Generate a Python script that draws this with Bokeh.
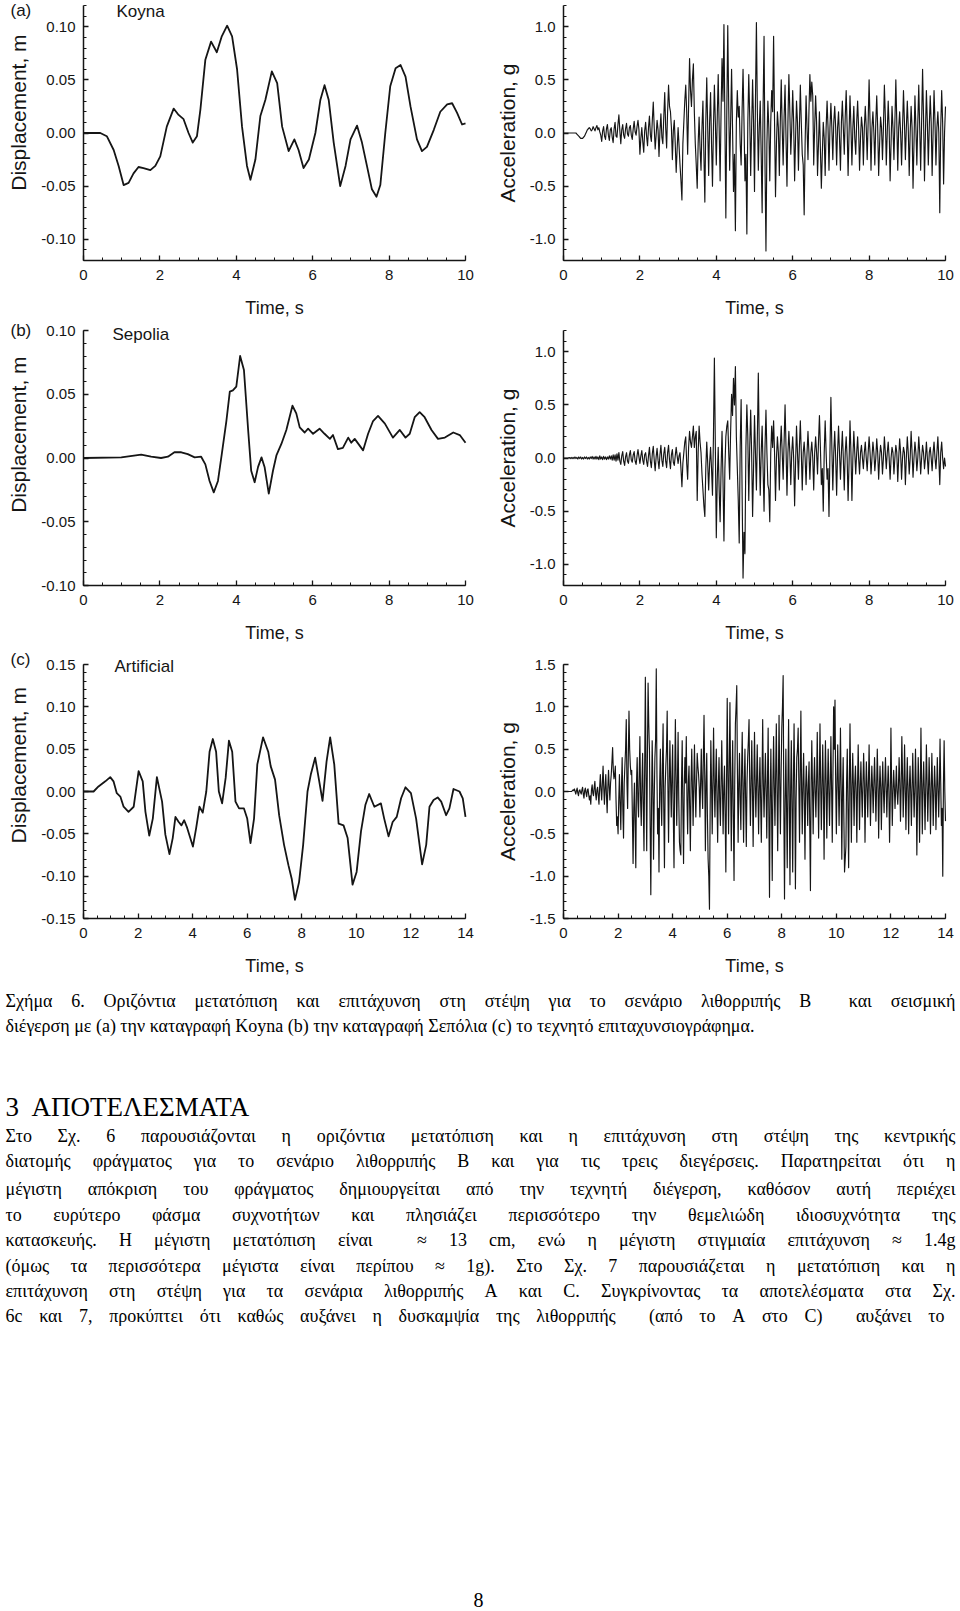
import glob
from bokeh.plotting import figure
from bokeh.models import Range1d, FixedTicker, PrintfTickFormatter, Label, ColumnDataSource
from bokeh.layouts import column, row
from bokeh.core.properties import value
from bokeh.embed import file_html
from bokeh.resources import INLINE

# ---------------- data ----------------
koyna_disp_t = [0, 0.44, 0.61, 0.79, 0.92, 1.05, 1.18, 1.31, 1.44, 1.57, 1.75, 1.88, 2.01, 2.18, 2.36,
                2.49, 2.62, 2.75, 2.86, 2.97, 3.06, 3.19, 3.34, 3.49, 3.62, 3.76, 3.89, 4.02, 4.15, 4.28,
                4.37, 4.50, 4.63, 4.76, 4.93, 5.07, 5.20, 5.37, 5.52, 5.63, 5.76, 5.90, 6.07, 6.20, 6.31,
                6.42, 6.55, 6.72, 6.86, 6.99, 7.16, 7.29, 7.42, 7.55, 7.67, 7.77, 7.90, 8.03, 8.17, 8.30,
                8.43, 8.56, 8.73, 8.86, 8.99, 9.17, 9.34, 9.52, 9.65, 9.78, 9.91, 10.0]
koyna_disp = [0, 0, -0.003, -0.016, -0.031, -0.049, -0.047, -0.038, -0.032, -0.033, -0.035, -0.031, -0.022, 0.006, 0.023,
              0.017, 0.013, 0, -0.009, -0.003, 0.022, 0.069, 0.086, 0.076, 0.091, 0.101, 0.091, 0.060, 0.006, -0.031,
              -0.044, -0.025, 0.016, 0.031, 0.058, 0.047, 0.006, -0.017, -0.006, -0.016, -0.033, -0.025, 0, 0.031, 0.045,
              0.031, -0.009, -0.050, -0.031, -0.006, 0.007, -0.009, -0.031, -0.053, -0.060, -0.049, 0, 0.044, 0.061, 0.064,
              0.053, 0.025, -0.006, -0.017, -0.013, 0.003, 0.020, 0.027, 0.028, 0.019, 0.008, 0.009]

sepolia_disp_t = [0, 0.99, 1.51, 1.77, 2.03, 2.21, 2.38, 2.56, 2.73, 2.91, 3.08, 3.19, 3.30, 3.41, 3.52,
                  3.62, 3.74, 3.83, 3.91, 4.00, 4.10, 4.20, 4.31, 4.39, 4.48, 4.57, 4.66, 4.74, 4.85, 4.96,
                  5.05, 5.18, 5.31, 5.47, 5.57, 5.66, 5.79, 5.88, 6.01, 6.18, 6.31, 6.45, 6.53, 6.66, 6.79,
                  6.93, 7.01, 7.10, 7.32, 7.45, 7.58, 7.71, 7.89, 8.10, 8.28, 8.43, 8.54, 8.67, 8.80, 8.93,
                  9.11, 9.28, 9.46, 9.68, 9.85, 10.0]
sepolia_disp = [0, 0.0005, 0.0026, 0.001, 0, 0.001, 0.0045, 0.0045, 0.003, 0.0005, 0.001, -0.005, -0.018, -0.027, -0.018,
                0.003, 0.029, 0.052, 0.053, 0.056, 0.080, 0.069, 0.022, -0.010, -0.019, -0.007, 0.0005, -0.007, -0.028, -0.010,
                0.002, 0.011, 0.022, 0.041, 0.035, 0.024, 0.020, 0.023, 0.019, 0.023, 0.019, 0.015, 0.018, 0.007, 0.008,
                0.016, 0.012, 0.015, 0.006, 0.019, 0.029, 0.033, 0.027, 0.016, 0.022, 0.016, 0.019, 0.032, 0.036, 0.032,
                0.022, 0.015, 0.016, 0.020, 0.018, 0.012]

artificial_disp_t = [0, 0.37, 0.55, 0.80, 0.98, 1.10, 1.22, 1.35, 1.47, 1.65, 1.84, 2.02, 2.17, 2.27, 2.41,
                     2.54, 2.69, 2.88, 3.00, 3.15, 3.27, 3.37, 3.49, 3.59, 3.69, 3.80, 4.01, 4.13, 4.25, 4.37,
                     4.50, 4.62, 4.74, 4.86, 4.96, 5.08, 5.21, 5.33, 5.45, 5.57, 5.70, 5.88, 6.00, 6.12, 6.25,
                     6.37, 6.58, 6.77, 6.86, 7.02, 7.17, 7.35, 7.51, 7.63, 7.75, 7.90, 8.05, 8.21, 8.33, 8.49,
                     8.64, 8.76, 8.91, 9.04, 9.19, 9.35, 9.53, 9.68, 9.86, 10.01, 10.17, 10.33, 10.47, 10.66, 10.90,
                     11.02, 11.18, 11.33, 11.48, 11.64, 11.80, 12.00, 12.19, 12.41, 12.56, 12.68, 12.83, 12.98, 13.11, 13.29,
                     13.41, 13.56, 13.78, 13.90, 14.0]
artificial_disp = [0, 0, 0.006, 0.012, 0.017, 0.012, -0.002, -0.006, -0.018, -0.024, -0.018, 0.024, 0.012, -0.024, -0.052,
                   -0.032, 0.017, -0.012, -0.051, -0.074, -0.055, -0.030, -0.036, -0.040, -0.034, -0.043, -0.065, -0.043, -0.018, -0.025,
                   0, 0.047, 0.062, 0.047, 0, -0.014, 0.016, 0.060, 0.047, -0.012, -0.020, -0.020, -0.032, -0.061, -0.032,
                   0.032, 0.064, 0.047, 0.030, 0.014, -0.028, -0.063, -0.087, -0.103, -0.128, -0.107, -0.063, 0, 0.020, 0.040,
                   0.012, -0.011, 0.036, 0.064, 0.032, -0.038, -0.040, -0.055, -0.110, -0.095, -0.047, -0.016, -0.003, -0.018, -0.014,
                   -0.032, -0.053, -0.036, -0.030, -0.008, 0.005, -0.002, -0.032, -0.086, -0.063, -0.018, -0.010, -0.007, -0.012, -0.028,
                   -0.020, 0.003, 0, -0.008, -0.030]

acc_dt = 0.025  # sampling step of the acceleration values below, s

koyna_acc = [
    0, 0, 0, 0, 0, 0, 0, 0, 0, 0, 0, 0, 0, 0, -0.01, -0.02, -0.03, -0.04, -0.05, -0.05,
    -0.05, -0.04, -0.03, -0.01, 0.01, 0.03, 0.04, 0.05, 0.04, 0.02, 0.03, 0.06, 0.04, 0.02, 0.05, 0.07, 0.03, 0.05, 0.01, -0.02,
    -0.08, 0.02, 0.06, -0.03, -0.06, 0.04, 0.08, -0.02, -0.07, 0.03, 0.05, -0.04, -0.09, 0.04, 0.10, -0.03, -0.04, 0.08, 0.17, 0.02,
    -0.10, 0.03, 0.08, -0.02, -0.05, 0.04, 0.09, -0.01, -0.03, 0.05, 0.07, -0.02, -0.06, 0.04, 0.11, 0.01, -0.02, 0.06, 0.12, 0.03,
    -0.20, -0.05, 0.05, -0.08, -0.18, 0.02, 0.10, -0.03, -0.12, 0.05, 0.16, -0.02, -0.08, 0.12, 0.29, 0.05, -0.15, -0.02, 0.12, 0.03,
    -0.22, 0.02, 0.18, -0.04, -0.10, 0.15, 0.38, 0.05, -0.14, 0.20, 0.45, 0.25, 0.20, 0.05, -0.25, 0.02, 0.12, -0.10, -0.37, -0.15,
    0.05, -0.12, -0.30, -0.45, -0.63, -0.10, 0.10, 0.30, 0.45, 0.20, -0.20, 0.25, 0.70, 0.40, 0.25, 0.50, 0.65, 0.20, -0.10, -0.30,
    -0.52, -0.10, 0.15, -0.15, -0.35, 0.05, 0.30, -0.20, -0.65, 0.10, 0.52, 0.05, -0.40, 0.10, 0.38, -0.10, -0.50, 0.05, 0.45, 0.10,
    -0.30, 0.15, 0.55, 0.05, -0.45, 0.20, 0.70, 0.30, 1.02, 0.10, -0.80, 0.20, 1.01, 0.25, -0.35, 0.10, 0.60, 0.05, -0.55, -0.20,
    -0.92, 0.10, 0.40, 0.15, 0.25, -0.10, -0.30, 0.20, 0.60, 0.10, -0.45, -0.20, -0.95, 0.10, 0.55, 0.15, -0.40, 0.05, 0.50, 0.10,
    -0.55, 0.30, 1.04, 0.20, -0.35, 0.05, 0.30, -0.20, -0.75, 0.25, 0.91, -0.30, -1.11, -0.10, 0.30, 0.05, -0.45, 0.10, 0.40, 0.20,
    0.91, 0.10, -0.60, -0.10, 0.20, 0.05, -0.40, 0.10, 0.50, 0.05, -0.30, 0.15, 0.45, -0.05, -0.50, 0.10, 0.55, 0.20, -0.20, 0.05,
    0.40, 0.10, -0.45, -0.05, 0.30, 0.10, -0.35, 0.05, 0.45, 0.10, -0.20, -0.30, -0.77, -0.10, 0.35, 0.05, -0.25, 0.20, 0.55, 0.30,
    0.48, 0.35, -0.30, 0.05, 0.35, 0.10, -0.40, -0.10, 0.20, -0.15, -0.52, -0.20, 0.10, -0.05, -0.40, 0.05, 0.30, 0.05, -0.35, 0.05,
    0.28, 0.05, -0.25, 0.10, 0.25, 0.05, -0.30, 0.05, 0.20, -0.05, -0.35, 0.10, 0.30, 0.05, -0.20, 0.15, 0.40, 0.05, -0.40, 0.00,
    0.35, 0.05, -0.30, 0.05, 0.25, -0.05, -0.20, 0.10, 0.30, 0.05, -0.35, -0.05, 0.15, 0.05, -0.30, 0.05, 0.25, 0.05, -0.25, 0.10,
    0.50, 0.10, -0.35, 0.05, 0.20, 0.00, -0.30, 0.10, 0.35, 0.05, -0.40, -0.10, 0.15, 0.05, -0.25, 0.05, 0.45, 0.15, -0.30, 0.00,
    0.30, 0.05, -0.45, -0.10, 0.25, 0.05, -0.25, 0.10, 0.50, 0.10, -0.35, 0.05, 0.20, 0.00, -0.30, 0.05, 0.40, 0.10, -0.25, 0.05,
    0.30, 0.05, -0.40, 0.00, 0.25, 0.05, -0.52, -0.10, 0.35, 0.05, -0.30, 0.10, 0.45, 0.05, -0.35, 0.10, 0.60, 0.15, -0.45, 0.00,
    0.40, 0.10, -0.30, 0.05, 0.35, 0.10, -0.40, 0.00, 0.40, 0.10, -0.30, 0.05, 0.20, 0.00, -0.75, 0.05, 0.40, 0.10, -0.48, 0.00,
    0.25]

sepolia_acc = [
    0, 0, 0, 0, 0, 0, 0.005, -0.005, 0.005, -0.005, 0.005, -0.005, 0.01, -0.005, 0.005, -0.01, 0.01, -0.005, 0.01, -0.01,
    0.005, -0.01, 0.01, -0.005, 0.01, -0.01, 0.005, -0.01, 0.01, -0.005, 0.015, -0.01, 0.01, -0.01, 0.015, -0.01, 0.01, -0.015, 0.02, -0.01,
    0.01, -0.015, 0.015, -0.01, 0.01, -0.015, 0.01, -0.01, 0.02, -0.01, 0.02, -0.02, 0.03, -0.02, 0.03, -0.03, 0.04, -0.02, 0.05, -0.03,
    -0.06, 0.02, 0.06, -0.03, -0.07, 0.01, 0.05, -0.03, -0.05, 0.03, 0.07, -0.02, -0.04, 0.03, 0.06, -0.03, -0.06, 0.02, 0.08, 0.01,
    -0.05, 0.02, 0.07, -0.02, -0.06, 0.03, 0.05, -0.03, -0.08, 0.02, 0.10, -0.03, -0.09, 0.04, 0.11, -0.02, -0.12, 0.01, 0.09, -0.02,
    -0.10, 0.03, 0.12, -0.02, -0.08, 0.04, 0.10, -0.03, -0.09, 0.05, 0.12, -0.02, -0.10, 0.03, 0.08, -0.04, -0.07, 0.02, 0.10, 0.02,
    -0.05, 0.02, 0.05, -0.10, -0.27, -0.05, 0.05, 0.15, 0.20, -0.05, -0.20, 0.10, 0.25, 0.15, 0.10, 0.20, 0.30, 0.10, 0.20, 0.25,
    -0.40, 0.05, 0.30, 0.15, 0.05, -0.15, -0.30, -0.45, -0.55, -0.10, 0.15, -0.05, -0.30, -0.05, 0.10, -0.10, -0.35, 0.20, 0.94, 0.10,
    -0.75, -0.20, 0.10, -0.30, -0.60, -0.10, 0.25, -0.20, -0.78, -0.10, 0.20, 0.30, 0.35, 0.05, -0.20, 0.25, 0.60, 0.40, 0.75, 0.50,
    0.86, 0.20, -0.10, -0.40, -0.80, 0.10, 0.55, -0.30, -1.13, -0.70, -0.90, 0.10, 0.50, 0.20, -0.40, 0.10, 0.45, 0.05, -0.55, -0.10,
    0.40, 0.05, -0.30, 0.20, 0.80, 0.10, -0.35, 0.05, 0.30, -0.10, -0.50, 0.10, 0.45, 0.05, -0.25, -0.30, -0.60, 0.05, 0.30, 0.10,
    0.35, 0.05, -0.40, 0.00, 0.20, 0.05, -0.30, 0.10, 0.30, 0.05, -0.20, 0.15, 0.50, 0.10, -0.35, 0.05, 0.25, 0.05, -0.25, 0.05,
    0.20, 0.00, -0.45, -0.05, 0.30, 0.05, -0.20, 0.10, 0.35, 0.05, -0.30, 0.05, 0.15, 0.00, -0.25, 0.05, 0.25, 0.05, -0.20, 0.05,
    0.15, 0.00, -0.30, 0.05, 0.20, 0.05, -0.15, 0.15, 0.40, 0.10, -0.25, -0.10, -0.50, 0.05, 0.35, 0.05, -0.20, -0.10, -0.55, 0.05,
    0.57, 0.10, -0.30, 0.05, 0.25, 0.00, -0.35, 0.05, 0.30, 0.05, -0.20, 0.05, 0.25, 0.00, -0.30, 0.05, 0.20, 0.00, -0.40, -0.05,
    0.35, 0.05, -0.40, 0.00, 0.25, 0.05, -0.15, 0.05, 0.20, 0.00, -0.15, 0.05, 0.12, 0.00, -0.10, 0.05, 0.15, 0.00, -0.12, 0.05,
    0.20, 0.05, -0.15, 0.00, 0.15, 0.05, -0.12, 0.00, 0.18, 0.05, -0.20, 0.00, 0.12, 0.05, -0.15, 0.00, 0.20, 0.05, -0.10, 0.05,
    0.15, 0.00, -0.20, 0.00, 0.10, 0.05, -0.15, 0.00, 0.12, 0.05, -0.22, 0.00, 0.18, 0.05, -0.20, 0.00, 0.10, 0.05, -0.25, 0.00,
    0.20, 0.05, -0.15, 0.00, 0.25, 0.05, -0.18, 0.00, 0.15, 0.05, -0.12, 0.00, 0.20, 0.05, -0.15, 0.00, 0.12, 0.05, -0.10, 0.00,
    0.15, 0.00, -0.15, 0.05, 0.10, 0.00, -0.12, 0.05, 0.15, 0.00, -0.10, 0.05, 0.20, 0.00, -0.25, 0.05, 0.15, 0.00, -0.10, 0.00,
    -0.08]

artificial_acc = [
    0, 0, 0, 0, 0, 0, 0, 0, 0, 0, 0, 0, 0, 0.01, 0.02, 0.01, 0.03, 0.00, -0.03, 0.01,
    0.04, -0.02, -0.05, 0.01, 0.02, -0.01, -0.03, 0.02, 0.05, -0.03, -0.08, 0.01, 0.04, -0.02, -0.06, 0.02, 0.03, -0.04, -0.10, -0.05,
    -0.15, 0.02, 0.08, -0.02, -0.05, 0.05, 0.12, -0.03, -0.10, 0.02, 0.05, -0.05, -0.15, 0.05, 0.20, 0.02, -0.10, 0.10, 0.30, 0.05,
    -0.15, 0.05, 0.20, -0.05, -0.25, 0.05, 0.25, 0.05, -0.10, 0.10, 0.20, 0.35, 0.52, 0.25, 0.15, 0.20, 0.30, -0.10, -0.40, -0.30,
    -0.50, -0.10, 0.20, -0.15, -0.45, 0.05, 0.40, -0.20, -0.55, 0.10, 0.30, 0.50, 0.85, 0.10, -0.20, 0.40, 0.95, 0.50, 0.30, 0.20,
    0.25, -0.30, -0.85, -0.20, 0.10, -0.40, -0.90, 0.10, 0.40, -0.10, -0.30, 0.20, 0.65, -0.10, -0.40, 0.10, 0.45, -0.20, -0.70, 0.30,
    1.35, 0.20, -0.70, 0.40, 1.28, 0.80, 0.50, -0.40, -1.22, -0.20, 0.60, 0.10, -0.80, -0.10, 0.40, 0.60, 1.45, 0.20, -0.50, -0.20,
    -0.95, 0.10, 0.50, -0.10, -0.40, 0.30, 0.80, -0.20, -0.90, 0.05, 0.30, 0.50, 0.95, 0.10, -0.60, 0.10, 0.60, 0.10, -0.30, 0.20,
    0.55, -0.30, -0.90, 0.10, 0.85, 0.20, -0.40, 0.10, 0.70, -0.10, -0.60, -0.70, -0.75, 0.10, 0.60, -0.20, -0.85, 0.05, 0.40, 0.10,
    0.65, -0.10, -0.50, 0.10, 0.30, -0.20, -0.70, 0.10, 0.50, 0.05, -0.40, 0.10, 0.55, 0.05, -0.30, 0.10, 0.45, 0.30, 0.20, 0.05,
    -0.30, 0.10, 0.50, 0.05, -0.20, 0.40, 0.90, 0.20, -0.70, 0.10, 0.45, -0.30, -0.80, -1.00, -1.39, -0.20, 0.60, 0.10, -0.50, 0.10,
    0.75, 0.10, -0.30, 0.15, 0.50, -0.10, -0.60, 0.05, 0.40, -0.10, -0.40, 0.10, 0.60, 0.05, -0.50, 0.05, 0.30, -0.30, -0.95, 0.10,
    1.10, 0.20, -0.50, 0.30, 1.05, 0.10, -0.70, 0.10, 0.60, -0.30, -1.05, 0.10, 0.80, 1.00, 1.25, 0.20, -0.60, 0.10, 0.45, -0.10,
    -0.45, 0.20, 0.70, 0.05, -0.60, 0.10, 0.50, -0.10, -0.65, 0.10, 0.40, 0.60, 0.85, 0.10, -0.40, 0.10, 0.60, 0.05, -0.65, 0.05,
    0.70, 0.10, -0.30, 0.10, 0.55, 0.05, -0.50, 0.05, 0.40, -0.10, -0.60, 0.10, 0.85, 0.10, -0.30, 0.10, 0.45, 0.00, -0.55, 0.10,
    0.75, -0.20, -1.25, -0.10, 0.50, -0.20, -1.05, 0.10, 0.65, 0.05, -0.40, 0.20, 0.80, 0.05, -0.70, 0.10, 0.90, 0.10, -0.50, 0.20,
    0.75, 1.00, 1.37, -0.20, -1.27, -0.10, 0.50, -0.20, -0.90, 0.10, 0.85, -0.10, -1.10, 0.05, 0.60, -0.20, -0.95, 0.10, 0.80, 0.05,
    -1.15, -0.10, 0.40, 0.50, 0.75, 0.10, -0.60, 0.20, 0.95, 0.05, -0.50, 0.10, 0.45, -0.10, -0.80, 0.05, 0.30, 0.00, -0.40, 0.10,
    0.35, -0.40, -1.17, 0.10, 0.60, 0.05, -0.50, 0.10, 0.40, 0.00, -0.30, 0.10, 0.70, 0.05, -0.55, 0.10, 0.80, 0.10, -0.45, 0.05,
    0.55, 0.05, -0.80, 0.05, 0.60, 0.10, -0.55, 0.05, 0.50, 0.00, -0.40, 0.10, 0.65, 0.05, -0.60, 0.20, 1.00, 0.50, 1.08, 0.10,
    -0.50, 0.10, 0.55, 0.05, -0.40, 0.10, 0.75, 0.05, -0.80, 0.00, 0.40, -0.30, -0.95, -0.80, -0.65, 0.10, 0.50, -0.20, -0.90, 0.05,
    0.80, 0.10, -0.60, 0.05, 0.45, 0.05, -0.40, 0.10, 0.30, 0.00, -0.60, 0.05, 0.55, 0.10, -0.45, 0.05, 0.35, 0.00, -0.30, 0.10,
    0.45, 0.10, -0.60, 0.00, 0.35, 0.05, -0.30, 0.10, 0.55, 0.05, -0.40, 0.00, 0.30, 0.05, -0.25, 0.10, 0.40, 0.05, -0.35, 0.05,
    0.50, 0.10, -0.55, 0.00, 0.30, 0.05, -0.45, 0.05, 0.35, 0.00, -0.25, 0.10, 0.40, 0.05, -0.30, 0.05, 0.30, 0.00, -0.60, -0.10,
    0.75, 0.10, -0.40, 0.00, 0.25, 0.05, -0.20, 0.05, 0.30, 0.00, -0.15, 0.05, 0.40, 0.10, -0.35, 0.05, 0.65, 0.20, -0.30, 0.05,
    0.55, 0.05, -0.45, 0.05, 0.40, 0.00, -0.50, 0.05, 0.30, 0.00, -0.40, 0.05, 0.45, 0.05, -0.30, 0.00, 0.50, 0.05, -0.75, -0.10,
    0.40, 0.05, -0.60, 0.00, 0.75, 0.10, -0.50, 0.05, 0.35, 0.00, -0.45, 0.05, 0.55, 0.10, -0.35, 0.00, 0.40, 0.05, -0.50, 0.00,
    0.45, 0.05, -0.40, 0.00, 0.30, 0.05, -0.45, 0.00, 0.40, 0.05, -0.30, 0.05, 0.62, 0.10, -0.40, -0.20, -1.00, 0.10, 0.60, 0.00,
    -0.35]

disp_ticks_10 = [-0.10, -0.05, 0.0, 0.05, 0.10]
disp_ticks_15 = [-0.15, -0.10, -0.05, 0.0, 0.05, 0.10, 0.15]
acc_ticks_10 = [-1.0, -0.5, 0.0, 0.5, 1.0]
acc_ticks_15 = [-1.5, -1.0, -0.5, 0.0, 0.5, 1.0, 1.5]

caption_lines = [
    "Σχήμα 6. Οριζόντια μετατόπιση και επιτάχυνση στη στέψη για το σενάριο λιθορριπής Β  και σεισμική",
    "διέγερση με (a) την καταγραφή Koyna (b) την καταγραφή Σεπόλια (c) το τεχνητό επιταχυνσιογράφημα.",
]
heading_num = "3"
heading_text = "ΑΠΟΤΕΛΕΣΜΑΤΑ"
paragraph_lines = [
    "Στο Σχ. 6 παρουσιάζονται η οριζόντια μετατόπιση και η επιτάχυνση στη στέψη της κεντρικής",
    "διατομής φράγματος για το σενάριο λιθορριπής Β και για τις τρεις διεγέρσεις. Παρατηρείται ότι η",
    "μέγιστη απόκριση του φράγματος δημιουργείται από την τεχνητή διέγερση, καθόσον αυτή περιέχει",
    "το ευρύτερο φάσμα συχνοτήτων και πλησιάζει περισσότερο την θεμελιώδη ιδιοσυχνότητα της",
    "κατασκευής. Η μέγιστη μετατόπιση είναι  ≈ 13 cm, ενώ η μέγιστη στιγμιαία επιτάχυνση ≈ 1.4g",
    "(όμως τα περισσότερα μέγιστα είναι περίπου ≈ 1g). Στο Σχ. 7 παρουσιάζεται η μετατόπιση και η",
    "επιτάχυνση στη στέψη για τα σενάρια λιθορριπής Α και C. Συγκρίνοντας τα αποτελέσματα στα Σχ.",
    "6c και 7, προκύπτει ότι καθώς αυξάνει η δυσκαμψία της λιθορριπής  (από το Α στο C)  αυξάνει το",
]
page_number = "8"

# ---------------- styling ----------------
SANS = "Liberation Sans"
SERIF = "Liberation Serif"
INK = "#151515"
FIG_W = 480      # each column of the page
AXIS_X = 83      # px from the figure's left edge to the y axis
SPAN_W = 382     # px length of the time axis
NBSP = "\u00a0"


def make_panel(t, v, xmax, ylim, yticks, yminor_step, yfmt, ylabel, top, span_h, bottom, lw, label_lift=0):
    # The frame covers the whole figure so that nothing (captions, tick labels)
    # is clipped; the axes sit at fixed data positions and are bounded to the span.
    kx = xmax / SPAN_W
    ky = 2 * ylim / span_h
    p = figure(frame_width=FIG_W, frame_height=top + span_h + bottom,
               min_border=0,
               x_range=Range1d(-AXIS_X * kx, (FIG_W - AXIS_X) * kx),
               y_range=Range1d(-ylim - bottom * ky, ylim + top * ky),
               toolbar_location=None, output_backend="svg")
    n = min(len(t), len(v))
    p.line(list(t[:n]), list(v[:n]), line_color=INK, line_width=lw, line_join="round")
    p.outline_line_color = None
    p.xgrid.visible = False
    p.ygrid.visible = False
    p.background_fill_color = "white"
    p.border_fill_color = "white"
    nmin = int(round(2 * ylim / yminor_step))
    p.xaxis.ticker = FixedTicker(ticks=list(range(0, xmax + 1, 2)),
                                 minor_ticks=[i * 0.5 for i in range(2 * xmax + 1)])
    p.yaxis.ticker = FixedTicker(ticks=yticks,
                                 minor_ticks=[round(-ylim + i * yminor_step, 3) for i in range(nmin + 1)])
    p.xaxis.formatter = PrintfTickFormatter(format="%d")
    p.yaxis.formatter = PrintfTickFormatter(format=yfmt)
    p.xaxis.axis_label = "Time, s"
    # leading no-break spaces lift the visible label a little above the span centre
    p.yaxis.axis_label = NBSP * label_lift + ylabel
    p.xaxis.bounds = (0, xmax)
    p.yaxis.bounds = (-ylim, ylim)
    p.xaxis.fixed_location = -ylim
    p.yaxis.fixed_location = 0
    for ax in p.axis:
        ax.axis_line_color = INK
        ax.axis_line_width = 1.5
        ax.major_tick_line_color = INK
        ax.major_tick_line_width = 1.3
        ax.major_tick_in = 5
        ax.major_tick_out = 0
        ax.minor_tick_line_color = INK
        ax.minor_tick_line_width = 1
        ax.minor_tick_in = 3
        ax.minor_tick_out = 0
        ax.major_label_text_font = SANS
        ax.major_label_text_font_size = "15px"
        ax.major_label_text_color = INK
        ax.axis_label_text_font = SANS
        ax.axis_label_text_font_style = "normal"
        ax.axis_label_text_color = INK
    p.xaxis.axis_label_text_font_size = "18px"
    p.yaxis.axis_label_text_font_size = "21px"
    p.xaxis.major_label_standoff = 9
    p.xaxis.axis_label_standoff = 15
    p.yaxis.major_label_standoff = 8
    p.yaxis.axis_label_standoff = 8
    return p


def tag(p, text, sx, sy, size="17px"):
    p.add_layout(Label(x=sx, y=sy, x_units="screen", y_units="screen", text=text,
                       text_font=SANS, text_font_size=size, text_baseline="middle",
                       text_color=INK))


def acc_time(vals):
    return [round(i * acc_dt, 4) for i in range(len(vals))]


# row (a): page y 0..320, axis span 5..260
pa1 = make_panel(koyna_disp_t, koyna_disp, 10, 0.12, disp_ticks_10, 0.01, "%.2f",
                 "Displacement, m", 5, 255, 60, 1.8, label_lift=7)
pa2 = make_panel(acc_time(koyna_acc), koyna_acc, 10, 1.2, acc_ticks_10, 0.1, "%.1f",
                 "Acceleration, g", 5, 255, 60, 1.15)
tag(pa1, "(a)", 10, 320 - 10)
tag(pa1, "Koyna", 116, 320 - 11)

# row (b): page y 320..650, axis span 330..585
pb1 = make_panel(sepolia_disp_t, sepolia_disp, 10, 0.10, disp_ticks_10, 0.01, "%.2f",
                 "Displacement, m", 10, 255, 65, 1.8, label_lift=8)
pb2 = make_panel(acc_time(sepolia_acc), sepolia_acc, 10, 1.2, acc_ticks_10, 0.1, "%.1f",
                 "Acceleration, g", 10, 255, 65, 1.15)
tag(pb1, "(b)", 10, 650 - 330)
tag(pb1, "Sepolia", 112, 650 - 334)

# row (c): page y 650..980, axis span 664..918
pc1 = make_panel(artificial_disp_t, artificial_disp, 14, 0.15, disp_ticks_15, 0.01, "%.2f",
                 "Displacement, m", 14, 254, 62, 1.8, label_lift=9)
pc2 = make_panel(acc_time(artificial_acc), artificial_acc, 14, 1.5, acc_ticks_15, 0.1, "%.1f",
                 "Acceleration, g", 14, 254, 62, 1.15)
tag(pc1, "(c)", 10, 980 - 659)
tag(pc1, "Artificial", 114, 980 - 666)

# ---------------- text part of the page ----------------
FONT_PATH = None
try:
    from PIL import ImageFont
    for pat in ["/usr/share/fonts/**/LiberationSerif-Regular.ttf",
                "/usr/local/share/fonts/**/LiberationSerif-Regular.ttf",
                "/usr/share/**/LiberationSerif-Regular.ttf"]:
        found = glob.glob(pat, recursive=True)
        if found:
            FONT_PATH = found[0]
            break
except Exception:
    FONT_PATH = None

BODY_SIZE = 18
HEAD_SIZE = 27
_font_cache = {}


def text_width(s, size):
    if FONT_PATH:
        try:
            if size not in _font_cache:
                _font_cache[size] = ImageFont.truetype(FONT_PATH, size)
            return _font_cache[size].getlength(s)
        except Exception:
            pass
    return len(s) * size * 0.46


xs, ys, words = [], [], []


def put(line, y, x0=5, x1=955, justify=True):
    toks = line.split(" ")
    if not justify or len(toks) < 2:
        xs.append(x0); ys.append(y); words.append(line)
        return
    widths = [text_width(tk, BODY_SIZE) for tk in toks]
    gap = (x1 - x0 - sum(widths)) / (len(toks) - 1)
    gap = max(gap, 3)
    x = x0
    for tk, w in zip(toks, widths):
        if tk:
            xs.append(x); ys.append(y); words.append(tk)
        x += w + gap


put(caption_lines[0], 1000)
put(caption_lines[1], 1025, justify=False)
para_y = [1135, 1160, 1188, 1214, 1239, 1265, 1290, 1315]
for i, (ln, yy) in enumerate(zip(paragraph_lines, para_y)):
    put(ln, yy, x1=955 if i < len(paragraph_lines) - 1 else 944)

ptxt = figure(width=960, height=631, x_range=Range1d(0, 960), y_range=Range1d(1611, 980),
              x_axis_location=None, y_axis_location=None, min_border=0,
              toolbar_location=None, output_backend="svg")
ptxt.outline_line_color = None
ptxt.xgrid.visible = False
ptxt.ygrid.visible = False
src = ColumnDataSource(dict(x=xs, y=ys, text=words))
ptxt.text(x="x", y="y", text="text", source=src, text_font=value(SERIF),
          text_font_size=f"{BODY_SIZE}px", text_baseline="middle", text_align="left",
          text_color="black")
ptxt.text(x=[5, 31], y=[1106, 1106], text=[heading_num, heading_text], text_font=value(SERIF),
          text_font_size=f"{HEAD_SIZE}px", text_baseline="middle", text_align="left",
          text_color="black")
ptxt.text(x=[478], y=[1599], text=[page_number], text_font=value(SERIF),
          text_font_size=f"{BODY_SIZE + 2}px", text_baseline="middle", text_align="center",
          text_color="black")

layout = column(row(pa1, pa2), row(pb1, pb2), row(pc1, pc2), ptxt)

open("out.html", "w").write(file_html(layout, INLINE))
